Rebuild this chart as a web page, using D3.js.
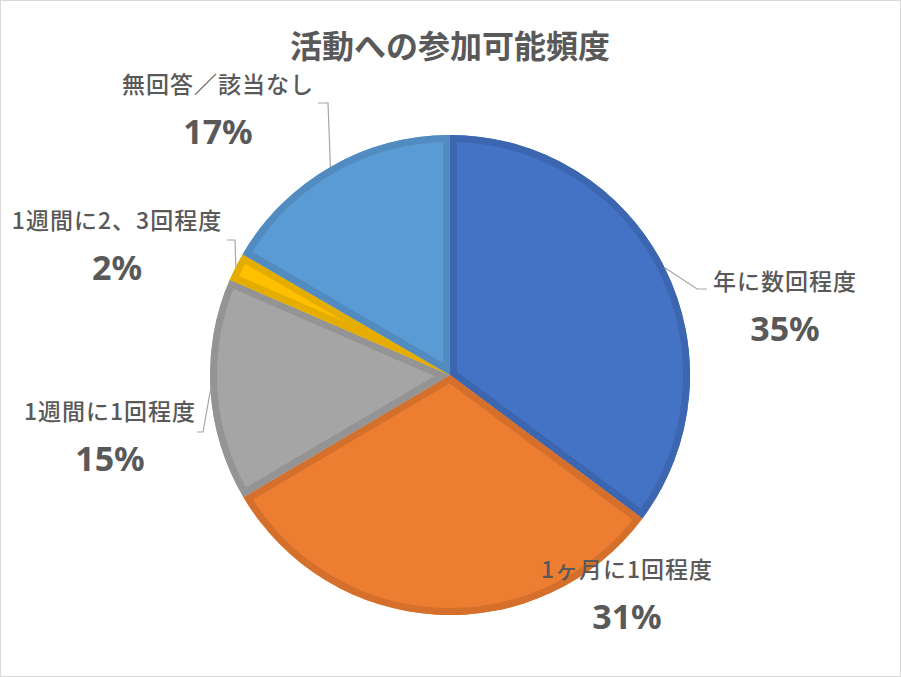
<!DOCTYPE html>
<html>
<head>
<meta charset="utf-8">
<script src="https://cdn.jsdelivr.net/npm/d3@7"></script>
<style>
  body { margin: 0; background: #fff; }
  svg text { font-family: "Noto Sans CJK JP", "Noto Sans", sans-serif; fill: #595959; }
</style>
</head>
<body>
<div id="chart"></div>
<script>
const title = "活動への参加可能頻度";
const categories = ["年に数回程度", "1ヶ月に1回程度", "1週間に1回程度", "1週間に2、3回程度", "無回答／該当なし"];
const shares = [35.2, 31.3, 15.0, 1.9, 16.6];
const colors = ["#4472C4", "#ED7D31", "#A5A5A5", "#FFC000", "#5B9BD5"];

const width = 901;
const height = 677;
const cx = 450, cy = 375;
const radius = 240;

// where excel put each data label (block centre, relative to pie centre) and the leader elbow
const labelLayout = [
  { x: 335, y: -80, leader: [[247, -86], [257, -86]] },
  { x: 177, y: 208, leader: null },
  { x: -340, y: 50, leader: [[-247, 57], [-253, 57]] },
  { x: -333, y: -141, leader: [[-215, -135], [-223, -135]] },
  { x: -232, y: -277, leader: [[-122, -272], [-132, -272]] }
];

const svg = d3.select("#chart").append("svg")
  .attr("width", width)
  .attr("height", height);

svg.append("rect")
  .attr("x", 0.5).attr("y", 0.5)
  .attr("width", width - 1).attr("height", height - 1)
  .attr("fill", "#fff")
  .attr("stroke", "#d9d9d9");

svg.append("text")
  .attr("x", cx)
  .attr("y", 58)
  .attr("text-anchor", "middle")
  .attr("font-size", 32)
  .attr("font-weight", "bold")
  .text(title);

const pie = d3.pie().sort(null).value(d => d);
const arcs = pie(shares);
const arc = d3.arc().innerRadius(0).outerRadius(radius);
const total = d3.sum(shares);

const g = svg.append("g").attr("transform", `translate(${cx},${cy})`);
const defs = svg.append("defs");

arcs.forEach((a, i) => {
  defs.append("clipPath").attr("id", "clip-" + i)
    .append("path").attr("d", arc(a));
});

const slices = g.selectAll("g.slice")
  .data(arcs)
  .join("g")
  .attr("class", "slice");

slices.append("path")
  .attr("d", arc)
  .attr("fill", (d, i) => colors[i]);

// inset border, darker shade of the slice colour
slices.append("path")
  .attr("d", arc)
  .attr("fill", "none")
  .attr("stroke", (d, i) => d3.color(colors[i]).darker(0.3))
  .attr("stroke-width", 14)
  .attr("stroke-linejoin", "miter")
  .attr("clip-path", (d, i) => `url(#clip-${i})`);

// leader lines
arcs.forEach((a, i) => {
  const lay = labelLayout[i];
  if (!lay.leader) return;
  const mid = (a.startAngle + a.endAngle) / 2;
  const p0 = d3.pointRadial(mid, radius);
  g.append("path")
    .attr("d", d3.line()([p0, ...lay.leader]))
    .attr("fill", "none")
    .attr("stroke", "#a6a6a6")
    .attr("stroke-width", 1.2);
});

// data labels
const fmt = v => Math.round(v / total * 100) + "%";
arcs.forEach((a, i) => {
  const lay = labelLayout[i];
  const t = g.append("g").attr("transform", `translate(${lay.x},${lay.y})`);
  t.append("text")
    .attr("text-anchor", "middle")
    .attr("y", -5)
    .attr("font-size", 23)
    .attr("font-weight", 500)
    .attr("letter-spacing", 1)
    .text(categories[i]);
  t.append("text")
    .attr("text-anchor", "middle")
    .attr("y", 46)
    .attr("font-size", 34)
    .attr("font-weight", "bold")
    .style("font-family", "'Noto Sans', sans-serif")
    .text(fmt(a.data));
});
</script>
</body>
</html>
